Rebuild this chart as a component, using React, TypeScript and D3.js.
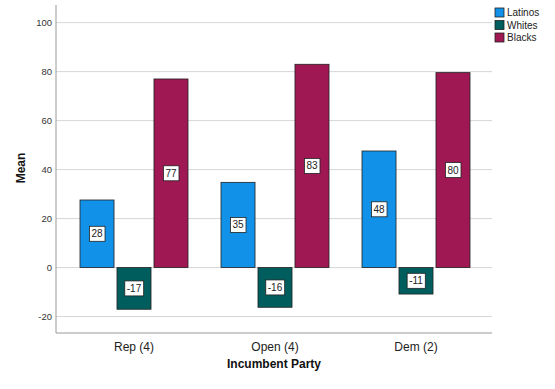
import React, { useEffect, useRef } from "react";
import * as d3 from "d3";

const parties = ["Rep (4)", "Open (4)", "Dem (2)"];
const groups = ["Latinos", "Whites", "Blacks"];
const latinos = [27.6, 34.8, 47.6];
const whites = [-17.0, -16.2, -10.8];
const blacks = [77.0, 83.0, 79.6];
const yTicks = [-20, 0, 20, 40, 60, 80, 100];
const colors = ["#1192e8", "#005d5d", "#9f1853"];

const W = 555, H = 389;

export default function App() {
  const ref = useRef<SVGSVGElement>(null);

  useEffect(() => {
    const svg = d3.select(ref.current);
    svg.selectAll("*").remove();
    const font = "Arial, 'Liberation Sans', sans-serif";

    const left = 56, right = 492, top = 5, bottom = 333;
    const y = d3.scaleLinear().domain([-26.7, 107.2]).range([bottom, top]);
    const x = d3.scaleBand().domain(parties).range([left + 7.5, right - 5.5]).paddingInner(0.234).paddingOuter(0.117);
    const xs = d3.scaleBand().domain(groups).range([0, x.bandwidth()]).paddingInner(0.08);

    // grid
    svg.append("g").selectAll("line").data(yTicks).join("line")
      .attr("x1", left).attr("x2", right)
      .attr("y1", d => y(d)).attr("y2", d => y(d))
      .attr("stroke", "#d6d6d6").attr("stroke-width", 1);

    // tick labels
    svg.append("g").selectAll("text").data(yTicks).join("text")
      .attr("x", left - 4).attr("y", d => y(d)).attr("dy", "0.35em")
      .attr("text-anchor", "end").attr("font-family", font).attr("font-size", 9.5)
      .attr("fill", "#333").text(d => d);

    // axes
    svg.append("line").attr("x1", left).attr("x2", left).attr("y1", top).attr("y2", bottom)
      .attr("stroke", "#999");
    svg.append("line").attr("x1", left).attr("x2", right).attr("y1", bottom).attr("y2", bottom)
      .attr("stroke", "#999");

    const series = [latinos, whites, blacks];
    const rows = parties.flatMap((p, i) => groups.map((g, j) => ({ p, g, j, v: series[j][i] })));

    const bars = svg.append("g").selectAll("g").data(rows).join("g");
    bars.append("rect")
      .attr("x", d => (x(d.p) as number) + (xs(d.g) as number))
      .attr("width", xs.bandwidth())
      .attr("y", d => y(Math.max(0, d.v)))
      .attr("height", d => Math.abs(y(d.v) - y(0)))
      .attr("fill", d => colors[d.j]).attr("stroke", "#222").attr("stroke-width", 0.8);

    const lab = bars.append("g")
      .attr("transform", d => `translate(${(x(d.p) as number) + (xs(d.g) as number) + xs.bandwidth() / 2},${(y(d.v) + y(0)) / 2})`);
    lab.append("text").attr("text-anchor", "middle").attr("dy", "0.35em")
      .attr("font-family", font).attr("font-size", 10).attr("fill", "#222")
      .text(d => Math.round(d.v));
    lab.each(function () {
      const g = d3.select(this);
      const t = g.select("text");
      const bb = (t.node() as SVGTextElement).getBBox();
      g.insert("rect", "text")
        .attr("x", bb.x - 2).attr("y", -7.5)
        .attr("width", bb.width + 4).attr("height", 15)
        .attr("fill", "#fff").attr("stroke", "#222").attr("stroke-width", 0.8);
    });

    // x labels
    svg.append("g").selectAll("text").data(parties).join("text")
      .attr("x", d => (x(d) as number) + x.bandwidth() / 2).attr("y", 351)
      .attr("text-anchor", "middle").attr("font-family", font).attr("font-size", 12)
      .attr("fill", "#222").text(d => d);

    svg.append("text").attr("x", (left + right) / 2).attr("y", 368)
      .attr("text-anchor", "middle").attr("font-family", font).attr("font-size", 12)
      .attr("font-weight", "bold").attr("fill", "#111").text("Incumbent Party");

    svg.append("text").attr("transform", `translate(25,168) rotate(-90)`)
      .attr("text-anchor", "middle").attr("font-family", font).attr("font-size", 12)
      .attr("font-weight", "bold").attr("fill", "#111").text("Mean");

    // legend
    const lg = svg.append("g").selectAll("g").data(groups).join("g")
      .attr("transform", (d, i) => `translate(495,${8 + i * 12.5})`);
    lg.append("rect").attr("width", 9).attr("height", 9)
      .attr("fill", (d, i) => colors[i]).attr("stroke", "#222").attr("stroke-width", 0.8);
    lg.append("text").attr("x", 12).attr("y", 4.5).attr("dy", "0.35em")
      .attr("font-family", font).attr("font-size", 10).attr("fill", "#222").text(d => d);
  }, []);

  return (
    <svg ref={ref} width={W} height={H}
      style={{ position: "absolute", left: 0, top: 0, background: "#fff" }} />
  );
}
